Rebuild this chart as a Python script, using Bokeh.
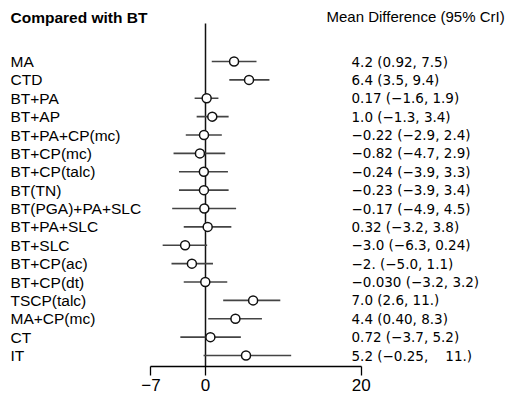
from bokeh.plotting import figure
from bokeh.models import Range1d, LinearAxis, FixedTicker, ColumnDataSource
from bokeh.core.properties import value
from bokeh.embed import file_html
from bokeh.resources import INLINE

# ---- data ----
treatments = ["MA", "CTD", "BT+PA", "BT+AP", "BT+PA+CP(mc)", "BT+CP(mc)", "BT+CP(talc)",
              "BT(TN)", "BT(PGA)+PA+SLC", "BT+PA+SLC", "BT+SLC", "BT+CP(ac)", "BT+CP(dt)",
              "TSCP(talc)", "MA+CP(mc)", "CT"]
mean_diff = [4.2, 6.4, 0.17, 1.0, -0.22, -0.82, -0.24, -0.23, -0.17, 0.32, -3.0, -2.0, -0.030,
             7.0, 4.4, 0.72]
lower = [0.92, 3.5, -1.6, -1.3, -2.9, -4.7, -3.9, -3.9, -4.9, -3.2, -6.3, -5.0, -3.2, 2.6, 0.40, -3.7]
upper = [7.5, 9.4, 1.9, 3.4, 2.4, 2.9, 3.3, 3.4, 4.5, 3.8, 0.24, 1.1, 3.2, 11.0, 8.3, 5.2]
value_text = ["4.2 (0.92, 7.5)", "6.4 (3.5, 9.4)", "0.17 (\u22121.6, 1.9)", "1.0 (\u22121.3, 3.4)",
              "\u22120.22 (\u22122.9, 2.4)", "\u22120.82 (\u22124.7, 2.9)", "\u22120.24 (\u22123.9, 3.3)",
              "\u22120.23 (\u22123.9, 3.4)", "\u22120.17 (\u22124.9, 4.5)", "0.32 (\u22123.2, 3.8)",
              "\u22123.0 (\u22126.3, 0.24)", "\u22122. (\u22125.0, 1.1)", "\u22120.030 (\u22123.2, 3.2)",
              "7.0 (2.6, 11.)", "4.4 (0.40, 8.3)", "0.72 (\u22123.7, 5.2)"]
# last row (drawn on the axis' own scale in the reference)
last_treatment = ["IT"]
last_mean = [5.2]
last_lower = [-0.25]
last_upper = [11.0]
last_text = ["5.2 (\u22120.25,\u00a0\u00a0\u00a0 11.)"]

tick_values = [-7, 0, 20]
tick_labels = {-7: "\u22127", 0: "0", 20: "20"}
title_left = "Compared with BT"
title_right = "Mean Difference (95% CrI)"

# ---- layout constants ----
W, H = 505, 397
PX_MAIN = 6.8          # px per unit for rows
PX_AX = 7.789          # px per unit for axis scale
ZERO_PX = 205          # canvas x of zero
ROW0 = 61              # canvas y of first row
ROW_H = 18.375

x_start = -ZERO_PX / PX_MAIN
x_end = (W - ZERO_PX) / PX_MAIN
ax_start = -ZERO_PX / PX_AX
ax_end = (W - ZERO_PX) / PX_AX
y_top = -ROW0 / ROW_H
y_bot = (H - ROW0) / ROW_H

def yidx(canvas_y):
    return (canvas_y - ROW0) / ROW_H

def xmain(canvas_x):
    return x_start + canvas_x / PX_MAIN

p = figure(width=W, height=H, output_backend="svg", toolbar_location=None,
           x_range=Range1d(x_start, x_end), y_range=Range1d(y_bot, y_top),
           min_border=0, min_border_left=0, min_border_right=0, min_border_top=0,
           min_border_bottom=0, outline_line_color=None, x_axis_type=None, y_axis_type=None)
p.grid.visible = False
p.extra_x_ranges = {"ax": Range1d(ax_start, ax_end)}

n = len(treatments)
ys = list(range(n))
src = ColumnDataSource(dict(y=ys, m=mean_diff, lo=lower, hi=upper, lab=treatments, txt=value_text))
last_y = [n]
src2 = ColumnDataSource(dict(y=last_y, m=last_mean, lo=last_lower, hi=last_upper,
                             lab=last_treatment, txt=last_text))

axis_y = yidx(366)

# zero reference line
p.segment(x0=[0], x1=[0], y0=[yidx(23)], y1=[axis_y], line_color="#111111", line_width=1.5)

LINE_C = "#444444"
p.segment(x0="lo", x1="hi", y0="y", y1="y", source=src, line_color=LINE_C, line_width=1.6)
p.scatter(x="m", y="y", source=src, size=9, marker="circle", fill_color="white",
          line_color="#111111", line_width=1.5)
p.segment(x0="lo", x1="hi", y0="y", y1="y", source=src2, line_color=LINE_C, line_width=1.6,
          x_range_name="ax")
p.scatter(x="m", y="y", source=src2, size=9, marker="circle", fill_color="white",
          line_color="#111111", line_width=1.5, x_range_name="ax")

# row labels and values
for s in (src, src2):
    p.text(x=xmain(10), y="y", text="lab", source=s, text_font=value("Liberation Sans"),
           text_font_size="15.5px", text_baseline="middle", text_align="left", text_color="black")
    p.text(x=xmain(351), y="y", text="txt", source=s, text_font=value("DejaVu Sans"),
           text_font_size="13.5px", text_baseline="middle", text_align="left", text_color="black")

p.text(x=[xmain(10)], y=[yidx(17)], text=[title_left], text_font=value("Liberation Sans"),
       text_font_size="15.5px", text_font_style="bold", text_baseline="middle", text_color="black")
p.text(x=[xmain(326)], y=[yidx(16)], text=[title_right], text_font=value("Liberation Sans"),
       text_font_size="15px", text_baseline="middle", text_color="black")

ax = LinearAxis(x_range_name="ax", ticker=FixedTicker(ticks=tick_values),
                major_label_overrides=tick_labels, bounds=(-7, 20), fixed_location=axis_y)
ax.axis_line_color = "black"
ax.axis_line_width = 1.3
ax.major_tick_line_color = "black"
ax.major_tick_line_width = 1.3
ax.major_tick_in = 0
ax.major_tick_out = 9
ax.minor_tick_line_color = None
ax.major_label_standoff = 3
ax.major_label_text_font = "Liberation Sans"
ax.major_label_text_font_size = "17px"
ax.major_label_text_color = "black"
p.add_layout(ax, "below")

open("out.html", "w").write(file_html(p, INLINE))
